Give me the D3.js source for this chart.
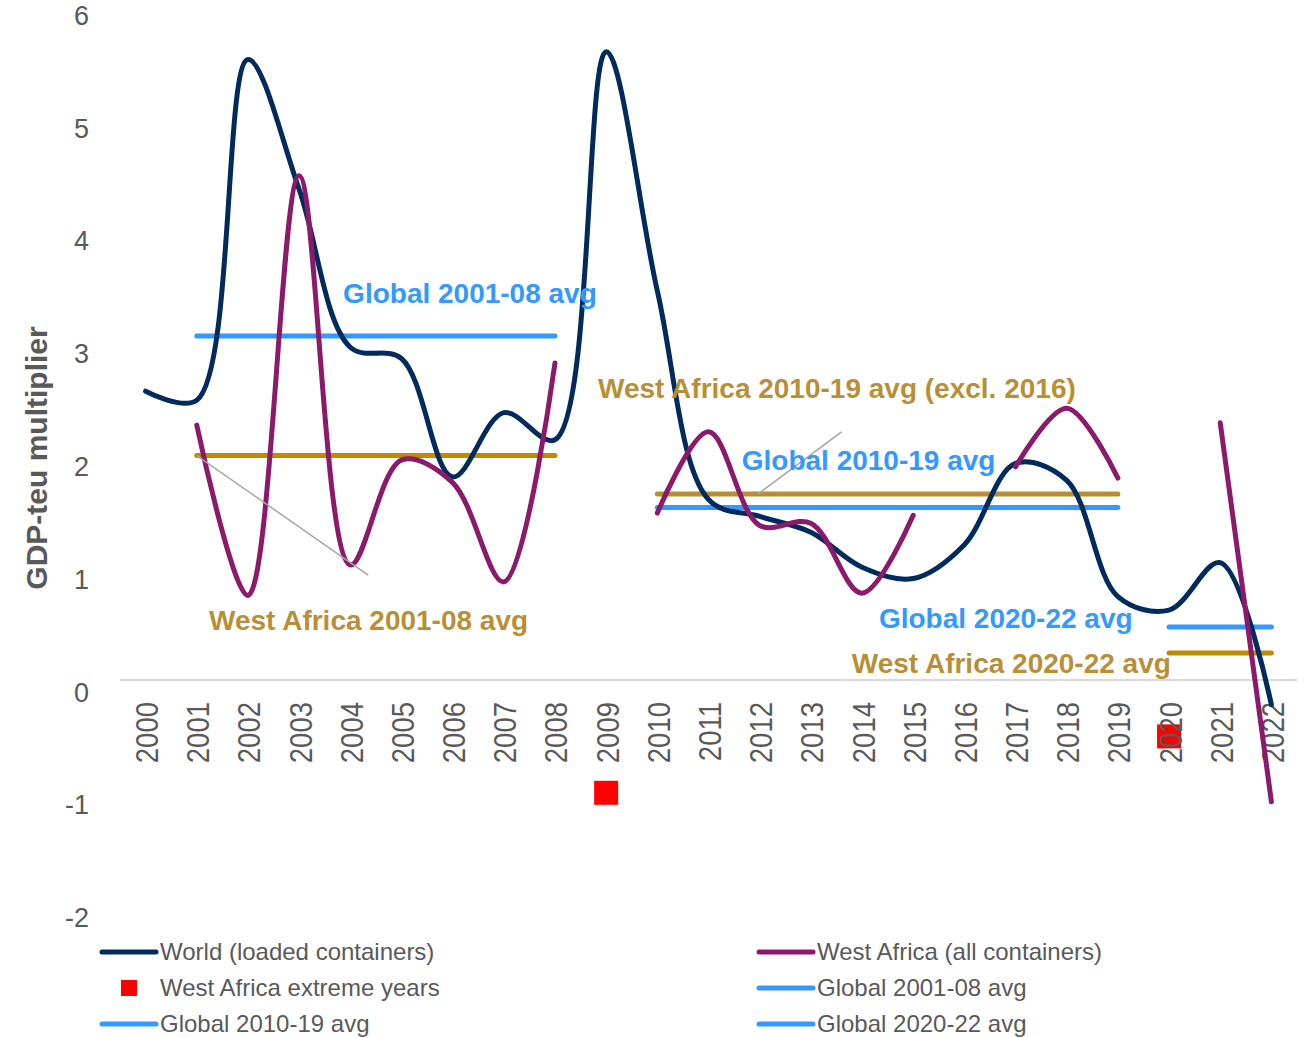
<!DOCTYPE html>
<html>
<head>
<meta charset="utf-8">
<script src="https://cdn.jsdelivr.net/npm/d3@7"></script>
<style>
  body { margin: 0; background: #fff; }
  svg { display: block; }
</style>
</head>
<body>
<svg id="chart"></svg>
<script>
// Categories
const years = ["2000","2001","2002","2003","2004","2005","2006","2007","2008","2009","2010",
  "2011","2012","2013","2014","2015","2016","2017","2018","2019","2020","2021","2022"];

// GDP-teu multiplier, world (loaded containers)
const world = [2.56, 2.48, 5.5, 4.35, 2.95, 2.85, 1.8, 2.37, 2.13, 5.57, 3.45,
  1.6, 1.45, 1.31, 1.0, 0.9, 1.2, 1.92, 1.77, 0.74, 0.62, 1.04, -0.22];

// West Africa (all containers), null = extreme year left out
const westAfrica = [null, 2.26, 0.75, 4.47, 1.02, 1.95, 1.75, 0.87, 2.81, null, 1.48,
  2.2, 1.37, 1.39, 0.77, 1.46, null, 1.89, 2.41, 1.79, null, 2.28, -1.08];

// West Africa extreme years (plotted as markers)
const extremeYears = ["2009", "2020"];
const extremeValues = [-1.0, -0.5];

// Period averages
const avgNames = ["Global 2001-08 avg", "West Africa 2001-08 avg", "West Africa 2010-19 avg (excl. 2016)",
  "Global 2010-19 avg", "Global 2020-22 avg", "West Africa 2020-22 avg"];
const avgFrom = ["2001", "2001", "2010", "2010", "2020", "2020"];
const avgTo = ["2008", "2008", "2019", "2019", "2022", "2022"];
const avgValues = [3.05, 1.99, 1.65, 1.53, 0.47, 0.24];

const yTicks = [-2, -1, 0, 1, 2, 3, 4, 5, 6];

const width = 1304, height = 1038;
const navy = "#002b5c", purple = "#8c1a6a", blue = "#3399ff", gold = "#bf8c00", goldText = "#b98f36";
const avgColors = [blue, gold, "#ba8d33", blue, blue, gold];

const svg = d3.select("#chart")
  .attr("width", width)
  .attr("height", height);

// Scales
const x = d3.scalePoint()
  .domain(years)
  .range([120, 1297])
  .padding(0.5);

// helper for annotation placement between categories
const xYear = d3.scaleLinear()
  .domain([2000, 2022])
  .range([x("2000"), x("2022")]);

const y = d3.scaleLinear()
  .domain([-2, 6])
  .range([905.6, 3.2]);

// Y axis (labels only)
const yAxis = svg.append("g")
  .attr("transform", "translate(89,0)")
  .call(d3.axisLeft(y).tickValues(yTicks).tickSize(0).tickPadding(0).tickFormat(d => String(d)));
yAxis.select(".domain").remove();
yAxis.selectAll("text")
  .attr("dy", 21)
  .style("font-family", "'Liberation Sans', Arial, sans-serif")
  .style("font-size", "27px")
  .style("fill", "#595959");

// Y axis title
svg.append("text")
  .attr("transform", `translate(47,${458}) rotate(-90)`)
  .attr("text-anchor", "middle")
  .style("font-family", "'Liberation Sans', Arial, sans-serif")
  .style("font-weight", "bold")
  .style("font-size", "30px")
  .style("fill", "#595959")
  .text("GDP-teu multiplier");

// Extreme year markers (behind category labels)
svg.append("g")
  .selectAll("rect")
  .data(extremeYears)
  .join("rect")
  .attr("x", d => x(d) - 12)
  .attr("y", (d, i) => y(extremeValues[i]) - 12)
  .attr("width", 24)
  .attr("height", 24)
  .attr("fill", "#ff0000");

// Category axis at zero
const xAxis = svg.append("g")
  .attr("transform", `translate(0,${y(0)})`)
  .call(d3.axisBottom(x).tickSize(0).tickPadding(0));
xAxis.select(".domain")
  .attr("d", "M120,0H1297")
  .attr("stroke", "#d9d9d9")
  .attr("stroke-width", 2);
xAxis.selectAll(".tick text")
  .attr("transform", "rotate(-90) scale(0.86,1)")
  .attr("text-anchor", "end")
  .attr("x", -22 / 0.86)
  .attr("y", 12)
  .attr("dy", 0)
  .style("font-family", "'Liberation Sans', Arial, sans-serif")
  .style("font-size", "32px")
  .style("fill", "#595959");

// Average lines
svg.append("g")
  .selectAll("line")
  .data(avgValues)
  .join("line")
  .attr("x1", (d, i) => x(avgFrom[i]))
  .attr("x2", (d, i) => x(avgTo[i]))
  .attr("y1", d => y(d))
  .attr("y2", d => y(d))
  .attr("stroke", (d, i) => avgColors[i])
  .attr("stroke-width", 5)
  .attr("stroke-linecap", "round");

// Smoothed series lines
const line = d3.line()
  .defined(d => d[1] !== null)
  .x(d => x(d[0]))
  .y(d => y(d[1]))
  .curve(d3.curveCatmullRom.alpha(0.5));

svg.append("path")
  .datum(years.map((yr, i) => [yr, world[i]]))
  .attr("d", line)
  .attr("fill", "none")
  .attr("stroke", navy)
  .attr("stroke-width", 5)
  .attr("stroke-linecap", "round")
  .attr("stroke-linejoin", "round");

svg.append("path")
  .datum(years.map((yr, i) => [yr, westAfrica[i]]))
  .attr("d", line)
  .attr("fill", "none")
  .attr("stroke", purple)
  .attr("stroke-width", 5)
  .attr("stroke-linecap", "round")
  .attr("stroke-linejoin", "round");

// Leader lines for two of the average labels
const leaders = [[2001, 1.99, 2004.35, 0.93], [2011.97, 1.65, 2013.6, 2.2]];
svg.append("g")
  .selectAll("line")
  .data(leaders)
  .join("line")
  .attr("x1", d => xYear(d[0]))
  .attr("y1", d => y(d[1]))
  .attr("x2", d => xYear(d[2]))
  .attr("y2", d => y(d[3]))
  .attr("stroke", "#a6a6a6")
  .attr("stroke-width", 1.5);

// Average labels (start year position, baseline value)
const labelAt = [[2003.86, 3.34], [2001.24, 0.44], [2008.84, 2.5], [2011.65, 1.86], [2014.33, 0.46], [2013.8, 0.06]];
svg.append("g")
  .selectAll("text")
  .data(avgNames)
  .join("text")
  .attr("x", (d, i) => xYear(labelAt[i][0]))
  .attr("y", (d, i) => y(labelAt[i][1]))
  .style("font-family", "'Liberation Sans', Arial, sans-serif")
  .style("font-weight", "bold")
  .style("font-size", "28px")
  .style("fill", (d, i) => avgColors[i] === blue ? blue : goldText)
  .text(d => d);

// Legend
const legendItems = [
  {name: "World (loaded containers)", color: navy, type: "line", col: 0, row: 0},
  {name: "West Africa (all containers)", color: purple, type: "line", col: 1, row: 0},
  {name: "West Africa extreme years", color: "#ff0000", type: "square", col: 0, row: 1},
  {name: "Global 2001-08 avg", color: blue, type: "line", col: 1, row: 1},
  {name: "Global 2010-19 avg", color: blue, type: "line", col: 0, row: 2},
  {name: "Global 2020-22 avg", color: blue, type: "line", col: 1, row: 2}
];
const legend = svg.append("g")
  .selectAll("g")
  .data(legendItems)
  .join("g")
  .attr("transform", d => `translate(${d.col ? 757 : 100},${952 + d.row * 36})`);

legend.filter(d => d.type === "line")
  .append("line")
  .attr("x1", 2).attr("x2", 56)
  .attr("stroke", d => d.color)
  .attr("stroke-width", 5)
  .attr("stroke-linecap", "round");

legend.filter(d => d.type === "square")
  .append("rect")
  .attr("x", 21).attr("y", -8)
  .attr("width", 16).attr("height", 16)
  .attr("fill", d => d.color);

legend.append("text")
  .attr("x", 60)
  .attr("dy", "0.35em")
  .style("font-family", "'Liberation Sans', Arial, sans-serif")
  .style("font-size", "24px")
  .style("fill", "#595959")
  .text(d => d.name);
</script>
</body>
</html>
